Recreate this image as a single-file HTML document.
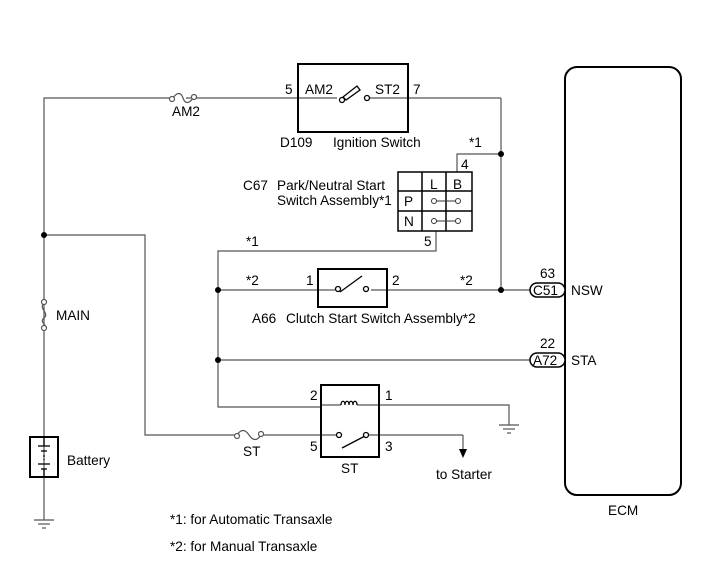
<!DOCTYPE html>
<html><head><meta charset="utf-8"><style>
html,body{margin:0;padding:0;background:#fff;}
svg{display:block;}
text{font-family:"Liberation Sans",Arial,sans-serif;font-size:13.6px;fill:#000;}
</style></head><body>
<svg width="713" height="581" viewBox="0 0 713 581" xmlns="http://www.w3.org/2000/svg">
<g fill="none" stroke="#555" stroke-width="1.2">
<polyline points="44,520 44,98 170,98"/>
<line x1="186" y1="98" x2="298" y2="98"/>
<line x1="298" y1="98" x2="337" y2="98"/>
<line x1="369" y1="98" x2="501" y2="98"/>
<line x1="501" y1="98" x2="501" y2="290"/>
<polyline points="501,154 457,154 457,172"/>
<polyline points="436,231 436,251 218,251 218,407 321,407"/>
<line x1="218" y1="290" x2="318" y2="290"/>
<line x1="318" y1="290" x2="335" y2="290"/>
<line x1="371" y1="290" x2="530" y2="290"/>
<line x1="218" y1="360" x2="530" y2="360"/>
<polyline points="44,235 145,235 145,435 237,435"/>
<line x1="262" y1="435" x2="337" y2="435"/>
<line x1="369" y1="435" x2="463" y2="435"/>
<line x1="463" y1="435" x2="463" y2="450"/>
<line x1="321" y1="405" x2="341" y2="405"/>
<polyline points="357,405 509,405 509,425"/>
</g>
<g stroke="#555" stroke-width="1.2">
<line x1="499" y1="425" x2="519" y2="425"/><line x1="503" y1="429" x2="515" y2="429"/><line x1="507" y1="433" x2="511" y2="433"/>
<line x1="34" y1="520" x2="54" y2="520"/><line x1="38" y1="524" x2="50" y2="524"/><line x1="42" y1="528" x2="46" y2="528"/>
</g>
<polygon points="459,449 467,449 463,458" fill="#000"/>
<g fill="#000"><circle cx="44" cy="235" r="3"/><circle cx="501" cy="154" r="3"/><circle cx="218" cy="290" r="3"/><circle cx="218" cy="360" r="3"/><circle cx="501" cy="290" r="3"/></g>
<g fill="#fff" stroke="#555" stroke-width="1.2">
<path d="M173,98 C177,92 181,92 183,98 C185,104 189,104 193,98" fill="none"/>
<circle cx="172" cy="99" r="2.5"/><circle cx="194" cy="97" r="2.5"/>
<path d="M237,435 C241,429 245,429 249,435 C253,441 257,441 261,435" fill="none"/>
<circle cx="237" cy="436" r="2.5"/><circle cx="261" cy="434" r="2.5"/>
<path d="M44,303 C38,309 50,313 44,318 C38,323 50,326 44,328" fill="none"/>
<circle cx="44" cy="302" r="2.5"/><circle cx="44" cy="328" r="2.5"/>
</g>
<g fill="none" stroke="#000" stroke-width="2">
<rect x="298" y="64" width="110" height="68"/>
<rect x="318" y="269" width="69" height="38"/>
<rect x="321" y="385" width="58" height="72"/>
<rect x="30" y="437" width="28" height="40"/>
<rect x="565" y="67" width="116" height="428" rx="12"/>
</g>
<g fill="none" stroke="#000" stroke-width="1.5">
<rect x="398" y="172" width="74" height="59"/>
<line x1="422" y1="172" x2="422" y2="231"/><line x1="446" y1="172" x2="446" y2="231"/>
<line x1="398" y1="191" x2="472" y2="191"/><line x1="398" y1="211" x2="472" y2="211"/>
</g>
<g fill="#fff" stroke="#333" stroke-width="1">
<line x1="434" y1="201" x2="458" y2="201"/><line x1="434" y1="221" x2="458" y2="221"/>
<circle cx="434" cy="201" r="2.5"/><circle cx="458" cy="201" r="2.5"/>
<circle cx="434" cy="221" r="2.5"/><circle cx="458" cy="221" r="2.5"/>
</g>
<g stroke="#000" stroke-width="1.3" fill="#fff">
<polygon points="343,97 357,86 360,90 346,100"/>
<circle cx="342" cy="100" r="2.5"/><circle cx="367" cy="98" r="2.5"/>
<line x1="340" y1="292" x2="362" y2="276"/>
<circle cx="338" cy="289" r="2.5"/><circle cx="366" cy="289" r="2.5"/>
<line x1="342" y1="448" x2="365" y2="436"/>
<circle cx="339" cy="435" r="2.5"/><circle cx="366" cy="435" r="2.5"/>
<path d="M341,405 c0,-5 4,-5 4,0 c0,-5 4,-5 4,0 c0,-5 4,-5 4,0 c0,-5 4,-5 4,0" fill="none"/>
</g>
<g stroke="#000" stroke-width="1.3">
<line x1="44" y1="437" x2="44" y2="446"/><line x1="38" y1="446" x2="50" y2="446"/><line x1="41" y1="451" x2="47" y2="451"/>
<line x1="44" y1="455" x2="44" y2="460" stroke-dasharray="2,2"/>
<line x1="38" y1="464" x2="50" y2="464"/><line x1="41" y1="469" x2="47" y2="469"/><line x1="44" y1="469" x2="44" y2="477"/>
</g>
<g fill="#fff" stroke="#000" stroke-width="1.5">
<rect x="530" y="283" width="35" height="14" rx="7"/>
<rect x="530" y="353" width="35" height="14" rx="7"/>
</g>
<g>
<text x="285" y="94">5</text><text x="305" y="94">AM2</text><text x="375" y="94">ST2</text><text x="413" y="94">7</text>
<text x="172" y="116">AM2</text>
<text x="280" y="147">D109</text><text x="333" y="147">Ignition Switch</text>
<text x="469" y="147">*1</text>
<text x="461" y="169">4</text>
<text x="243" y="190">C67</text><text x="277" y="190">Park/Neutral Start</text>
<text x="277" y="205">Switch Assembly*1</text>
<text x="430" y="189">L</text><text x="453" y="189">B</text>
<text x="404" y="206">P</text><text x="404" y="226">N</text>
<text x="424" y="246">5</text>
<text x="246" y="246">*1</text>
<text x="246" y="285">*2</text><text x="306" y="285">1</text><text x="392" y="285">2</text><text x="460" y="285">*2</text>
<text x="252" y="323">A66</text><text x="286" y="323">Clutch Start Switch Assembly*2</text>
<text x="540" y="278">63</text><text x="533" y="295">C51</text><text x="571" y="295">NSW</text>
<text x="540" y="348">22</text><text x="533" y="365">A72</text><text x="571" y="365">STA</text>
<text x="56" y="320">MAIN</text>
<text x="67" y="465">Battery</text>
<text x="310" y="400">2</text><text x="385" y="400">1</text>
<text x="310" y="451">5</text><text x="385" y="451">3</text>
<text x="243" y="456">ST</text><text x="341" y="473">ST</text>
<text x="436" y="479">to Starter</text>
<text x="608" y="515">ECM</text>
<text x="170" y="524">*1: for Automatic Transaxle</text>
<text x="170" y="551">*2: for Manual Transaxle</text>
</g>
</svg>
</body></html>
